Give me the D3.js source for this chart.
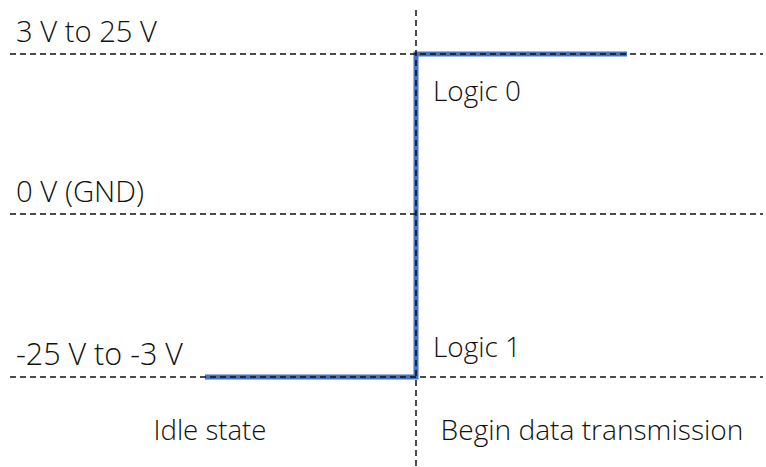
<!DOCTYPE html>
<html><head><meta charset="utf-8">
<script src="https://cdn.jsdelivr.net/npm/d3@7"></script>
<style>body{margin:0;background:#fff}svg{display:block}text{font-family:"Open Sans",sans-serif;font-weight:300;fill:#111}</style>
</head><body><svg id="c" width="766" height="467"></svg>
<script>
const levels = [1, 0, -1];
const levelLabels = ["3 V to 25 V", "0 V (GND)", "-25 V to -3 V"];
const phaseLabels = ["Idle state", "Begin data transmission"];
const signalT = [0, 1, 1, 2];
const signalV = [-1, -1, 1, 1];
const logicLabels = ["Logic 0", "Logic 1"];
const logicLevels = [1, -1];

const svg = d3.select("#c");
const x = d3.scaleLinear().domain([0, 2]).range([205, 627]);
const yMid = d3.scaleLinear().domain([-1,0,1]).range([377,214,54]);

// signal line
const pts = signalT.map((t,i)=>[x(t), yMid(signalV[i])]);
svg.append("path").attr("d", d3.line()(pts))
  .attr("fill","none").attr("stroke","#4472c4").attr("stroke-width",5)
  .attr("stroke-linejoin","miter");

// horizontal dashed lines
svg.selectAll("line.h").data(levels).join("line").attr("class","h")
  .attr("x1",10).attr("x2",763).attr("y1",d=>yMid(d)).attr("y2",d=>yMid(d))
  .attr("stroke","#111").attr("stroke-width",1.5).attr("stroke-dasharray","6,4");

// vertical dashed line
svg.append("line").attr("x1",x(1)).attr("x2",x(1)).attr("y1",10).attr("y2",467)
  .attr("stroke","#111").attr("stroke-width",1.5).attr("stroke-dasharray","6,4");

// fit a text element to a target width by adjusting font size
function fit(sel, w){
  sel.each(function(){
    const bb=this.getComputedTextLength();
    const fs=+this.getAttribute("font-size");
    this.setAttribute("font-size", fs*w/bb);
  });
}

const levelW = [141, 128, 167];
svg.selectAll("text.lv").data(levels).join("text").attr("class","lv")
  .attr("x",16).attr("y",d=>yMid(d)-12).attr("font-size",22)
  .text((d,i)=>levelLabels[i])
  .each(function(d,i){fit(d3.select(this), levelW[i]);});

const logicY = [101, 357];
svg.selectAll("text.lg").data(logicLevels).join("text").attr("class","lg")
  .attr("x",x(1)+17).attr("y",(d,i)=>logicY[i]).attr("font-size",22)
  .text((d,i)=>logicLabels[i])
  .each(function(){fit(d3.select(this), 88);});

const phaseX = [210, 592];
const phaseW = [113, 303];
svg.selectAll("text.ph").data(phaseLabels).join("text").attr("class","ph")
  .attr("x",(d,i)=>phaseX[i]).attr("y",440).attr("text-anchor","middle").attr("font-size",22)
  .text(d=>d)
  .each(function(d,i){fit(d3.select(this), phaseW[i]);});
</script></body></html>
